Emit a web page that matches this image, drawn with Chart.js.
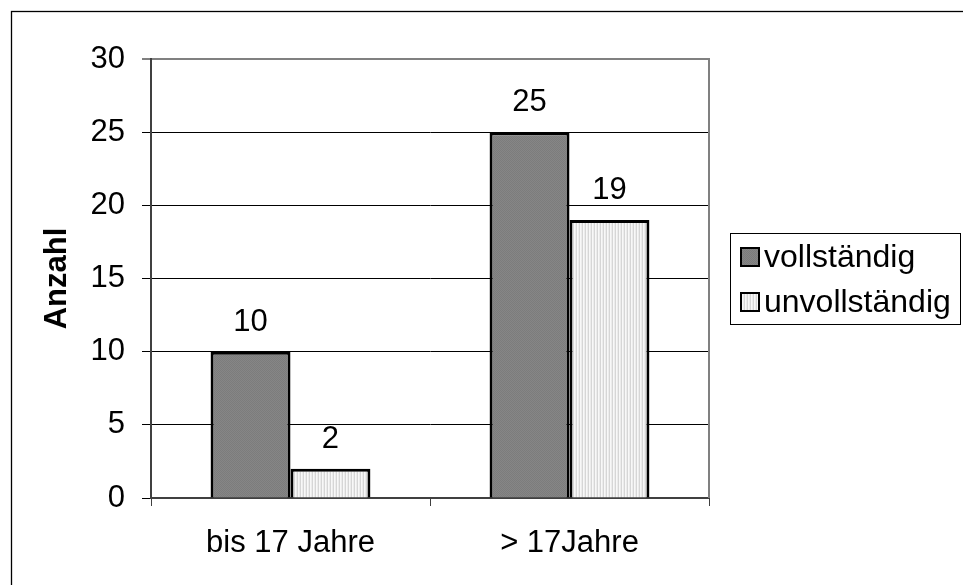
<!DOCTYPE html>
<html>
<head>
<meta charset="utf-8">
<script src="https://cdn.jsdelivr.net/npm/chart.js@4/dist/chart.umd.min.js"></script>
<style>
html,body{margin:0;padding:0;background:#fff;}
canvas{display:block;}
</style>
</head>
<body>
<canvas id="c" width="963" height="585"></canvas>
<script>
// ---- data ----
const categories = ['bis 17 Jahre', '> 17Jahre'];
const seriesNames = ['vollständig', 'unvollständig'];
const vollstaendig = [10, 25];
const unvollstaendig = [2, 19];
const yTicks = [0, 5, 10, 15, 20, 25, 30];
const yTitle = 'Anzahl';

const FONT = "'Liberation Sans', Arial, sans-serif";

function makePattern(cols, w, h) {
  const c = document.createElement('canvas');
  c.width = w; c.height = h;
  const x = c.getContext('2d');
  for (let j = 0; j < h; j++) for (let i = 0; i < w; i++) {
    x.fillStyle = cols[j][i];
    x.fillRect(i, j, 1, 1);
  }
  return x.createPattern(c, 'repeat');
}
const darkFill = makePattern([['#7c7c7c', '#868686'], ['#868686', '#7c7c7c']], 2, 2);
const lightFill = makePattern([['#d6d6d6', '#f8f8f8', '#ececec']], 3, 1);

const extras = {
  id: 'extras',
  beforeDatasetsDraw(chart) {
    const {ctx, chartArea: a} = chart;
    ctx.save();
    ctx.strokeStyle = '#808080';
    ctx.lineWidth = 2;
    ctx.beginPath();
    ctx.moveTo(a.right, a.top - 1);
    ctx.lineTo(a.right, a.bottom);
    ctx.stroke();
    ctx.restore();
  },
  afterDatasetsDraw(chart) {
    const {ctx} = chart;
    ctx.save();
    ctx.font = '31px ' + FONT;
    ctx.fillStyle = '#000';
    ctx.textAlign = 'center';
    ctx.textBaseline = 'alphabetic';
    chart.data.datasets.forEach((ds, di) => {
      const meta = chart.getDatasetMeta(di);
      meta.data.forEach((el, i) => {
        ctx.fillText(String(ds.data[i]), el.x, el.y - 21);
      });
    });
    ctx.restore();
  },
  afterDraw(chart) {
    const {ctx, chartArea: a} = chart;
    ctx.save();
    // outer frame
    ctx.strokeStyle = '#000';
    ctx.lineWidth = 1.3;
    ctx.strokeRect(11.5, 11.5, 2000, 2000);
    // legend
    const lx = a.right + 21, ly = 233, lw = 230, lh = 91;
    ctx.lineWidth = 1;
    ctx.strokeRect(lx + 0.5, ly + 0.5, lw, lh);
    ctx.font = '32px ' + FONT;
    ctx.textBaseline = 'middle';
    ctx.textAlign = 'left';
    chart.data.datasets.forEach((ds, i) => {
      const yc = 257 + i * 45;
      ctx.fillStyle = ds.backgroundColor;
      ctx.fillRect(lx + 11, yc - 9, 18, 18);
      ctx.strokeStyle = '#000';
      ctx.lineWidth = 2;
      ctx.strokeRect(lx + 11, yc - 9, 18, 18);
      ctx.fillStyle = '#000';
      ctx.fillText(ds.label, lx + 34, yc + 1);
    });
    ctx.restore();
  }
};

new Chart(document.getElementById('c'), {
  type: 'bar',
  data: {
    labels: categories,
    datasets: [
      {label: seriesNames[0], data: vollstaendig, backgroundColor: darkFill, borderColor: '#000', borderWidth: 3},
      {label: seriesNames[1], data: unvollstaendig, backgroundColor: lightFill, borderColor: '#000', borderWidth: 3}
    ]
  },
  options: {
    responsive: false,
    animation: false,
    devicePixelRatio: 1,
    layout: {padding: {top: 59, right: 254, bottom: 0, left: 0}},
    datasets: {bar: {categoryPercentage: 0.573, barPercentage: 1}},
    plugins: {legend: {display: false}, tooltip: {enabled: false}},
    scales: {
      x: {
        afterFit(s) { s.height = 87; },
        grid: {display: true, drawOnChartArea: false, drawTicks: true, tickLength: 8, color: '#404040', offset: true},
        border: {display: true, color: '#404040', width: 2},
        ticks: {color: '#000', font: {family: FONT, size: 31}, padding: 19, maxRotation: 0}
      },
      y: {
        min: 0, max: 30,
        afterFit(s) { s.width = 151; },
        afterBuildTicks(s) { s.ticks = yTicks.map(v => ({value: v})); },
        grid: {
          color: c => (c.tick && c.tick.value === 30) ? '#808080' : '#000000',
          lineWidth: c => (c.tick && c.tick.value === 30) ? 2 : 1,
          tickColor: '#000', tickWidth: 1, tickLength: 9, drawTicks: true
        },
        border: {display: true, color: '#404040', width: 2},
        ticks: {color: '#000', font: {family: FONT, size: 31}, padding: 17},
        title: {display: true, text: yTitle, color: '#000', font: {family: FONT, size: 31, weight: 'bold'}, padding: {top: 39, bottom: 0}}
      }
    }
  },
  plugins: [extras]
});
</script>
</body>
</html>
